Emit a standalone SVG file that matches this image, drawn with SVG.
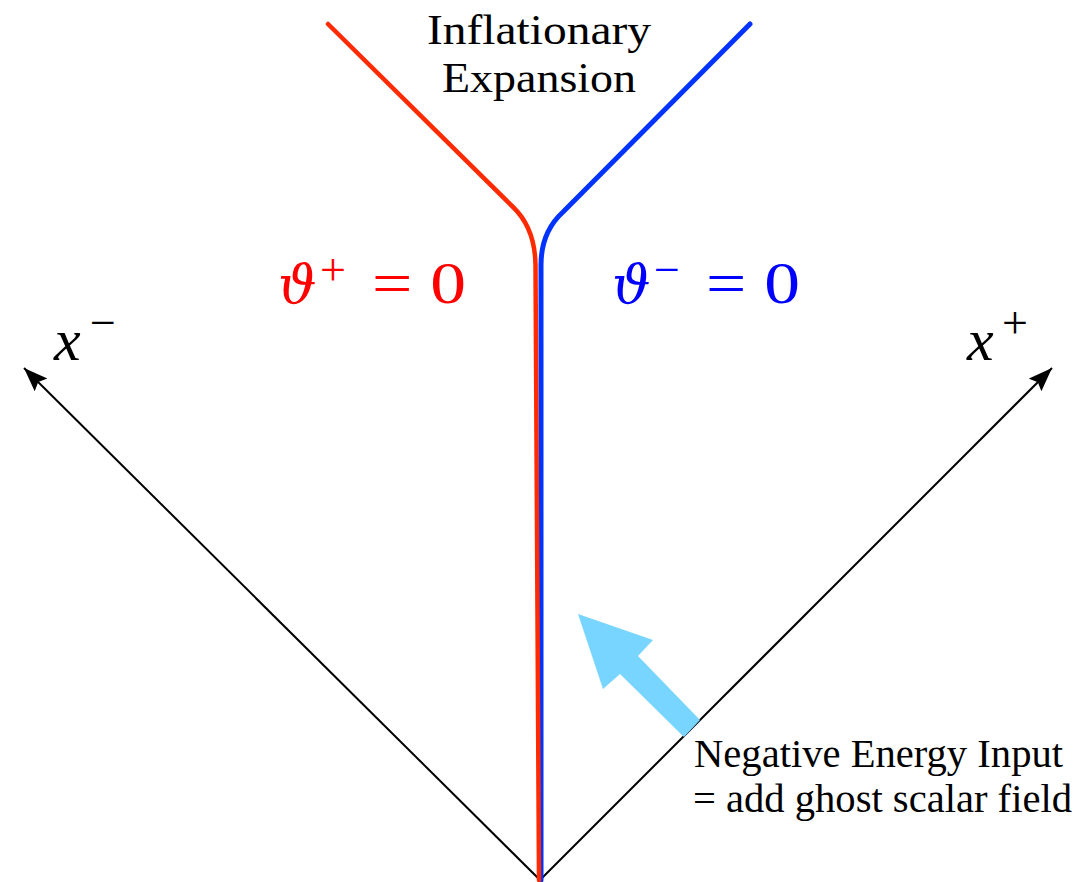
<svg xmlns="http://www.w3.org/2000/svg" width="1088" height="882" viewBox="0 0 1088 882">
<style>
text{font-family:"Liberation Serif","Times New Roman",Times,serif;}
.math{font-style:italic;}
.sym{font-family:"DejaVu Serif","Liberation Serif",serif;font-style:italic;}
.axis{stroke:#000;stroke-width:2;fill:none;}
</style>
<defs>
<marker id="ah" markerUnits="userSpaceOnUse" markerWidth="30" markerHeight="24" refX="24" refY="9" orient="auto">
<polygon points="0,0 24,9 0,18 4,9" fill="#000"/>
</marker>
</defs>
<rect width="1088" height="882" fill="#fff"/>
<g id="connectors">
<line class="axis" x1="540" y1="880" x2="24" y2="368" marker-end="url(#ah)"/>
<line class="axis" x1="540" y1="880" x2="1052" y2="368" marker-end="url(#ah)"/>
</g>
<g id="blue-curve">
<path d="M541 880 L541 265 Q541 232 563 212 L750 24" fill="none" stroke="#0033ff" stroke-width="5" stroke-linecap="round"/>
</g>
<g id="red-curve">
<path d="M539 880 L535.5 265 Q535 228 513 207 L328 24" fill="none" stroke="#ff2a00" stroke-width="4.5" stroke-linecap="round"/>
</g>
<g id="negative-energy-arrow">
<polygon points="578,614 653,640 638,656 700,720 684,737 620,674 603,689" fill="#77d5ff"/>
</g>
<g id="inflation-label">
<text x="539" y="44" font-size="42" text-anchor="middle" textLength="224" lengthAdjust="spacingAndGlyphs">Inflationary</text>
<text x="539" y="92" font-size="42" text-anchor="middle" textLength="194" lengthAdjust="spacingAndGlyphs">Expansion</text>
</g>
<g id="theta-plus" fill="#ff0000">
<text class="sym" x="278" y="303" font-size="54">ϑ</text>
<text x="320" y="285" font-size="46">+</text>
<text x="372" y="303" font-size="60" textLength="94" lengthAdjust="spacingAndGlyphs">= 0</text>
</g>
<g id="theta-minus" fill="#0000ff">
<text class="sym" x="612" y="303" font-size="54">ϑ</text>
<text x="654" y="285" font-size="46">−</text>
<text x="706" y="303" font-size="60" textLength="94" lengthAdjust="spacingAndGlyphs">= 0</text>
</g>
<g id="x-minus">
<text class="math" x="54" y="360" font-size="60">x</text>
<text x="90" y="338" font-size="46">−</text>
</g>
<g id="x-plus">
<text class="math" x="967" y="360" font-size="60">x</text>
<text x="1002" y="338" font-size="46">+</text>
</g>
<g id="negative-energy-label">
<text x="694" y="767" font-size="40" textLength="369" lengthAdjust="spacingAndGlyphs">Negative Energy Input</text>
<text x="693" y="812" font-size="40" textLength="379" lengthAdjust="spacingAndGlyphs">= add ghost scalar field</text>
</g>
</svg>
